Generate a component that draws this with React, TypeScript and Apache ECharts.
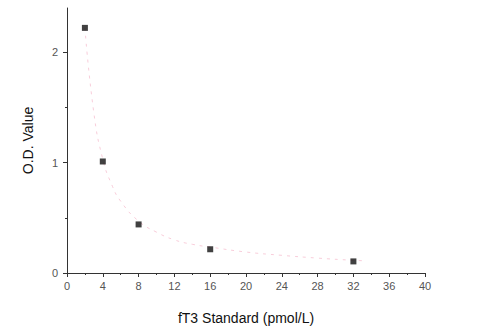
import React, { useEffect, useRef } from "react";
import * as echarts from "echarts";

const standardX = [2, 4, 8, 16, 32];
const odValues = [2.22, 1.01, 0.44, 0.215, 0.105];
const fitX = [2, 3, 4, 5, 6, 8, 10, 12, 14, 16, 20, 24, 28, 32, 33.5];
const fitY = [2.22, 1.45, 1.03, 0.8, 0.65, 0.47, 0.37, 0.3, 0.26, 0.235, 0.19, 0.16, 0.135, 0.115, 0.11];
const yMajorTicks = [0, 1, 2];
const yMinorTicks = [0.5, 1.5];

export default function App() {
  const ref = useRef<HTMLDivElement>(null);
  useEffect(() => {
    document.body.style.margin = "0";
    const chart = echarts.init(ref.current!, null, { renderer: "svg" });
    const font = "'Liberation Sans', Arial, sans-serif";
    const axisColor = "#333";
    chart.setOption({
      animation: false,
      backgroundColor: "#fff",
      grid: { left: 67, right: 57, top: 8, bottom: 58, containLabel: false, outerBoundsMode: "none" },
      xAxis: {
        type: "value",
        min: 0,
        max: 40,
        interval: 4,
        name: "fT3 Standard (pmol/L)",
        nameLocation: "middle",
        nameGap: 38,
        nameTextStyle: { fontFamily: font, fontSize: 14, color: "#111" },
        axisLine: { show: true, lineStyle: { color: axisColor, width: 1 } },
        axisTick: { show: true, length: 4, lineStyle: { color: axisColor } },
        minorTick: { show: true, splitNumber: 2, length: 2, lineStyle: { color: axisColor } },
        axisLabel: { fontFamily: font, fontSize: 11, color: "#555", margin: 7 },
        splitLine: { show: false },
      },
      yAxis: [
        {
          type: "value",
          min: 0,
          max: 2.4,
          name: "O.D. Value",
          nameLocation: "middle",
          nameGap: 32,
          nameRotate: 90,
          nameTextStyle: { fontFamily: font, fontSize: 14, color: "#111" },
          axisLine: { show: true, lineStyle: { color: axisColor, width: 1 } },
          axisTick: { show: true, length: 4, customValues: yMajorTicks, lineStyle: { color: axisColor } },
          axisLabel: { fontFamily: font, fontSize: 11, color: "#555", margin: 9, customValues: yMajorTicks },
          splitLine: { show: false },
        },
        {
          type: "value",
          min: 0,
          max: 2.4,
          position: "left",
          axisLine: { show: false },
          axisTick: { show: true, length: 2, customValues: yMinorTicks, lineStyle: { color: axisColor } },
          axisLabel: { show: false },
          splitLine: { show: false },
        },
      ],
      series: [
        {
          type: "line",
          data: fitX.map((x, i) => [x, fitY[i]]),
          smooth: true,
          showSymbol: false,
          lineStyle: { color: "#f5b8cb", width: 1, type: [3, 5], opacity: 0.7 },
          z: 1,
        },
        {
          type: "scatter",
          data: standardX.map((x, i) => [x, odValues[i]]),
          symbol: "rect",
          symbolSize: 6,
          itemStyle: { color: "#111" },
          z: 3,
        },
      ],
    });
    return () => chart.dispose();
  }, []);
  return <div ref={ref} style={{ width: 482, height: 331 }} />;
}
